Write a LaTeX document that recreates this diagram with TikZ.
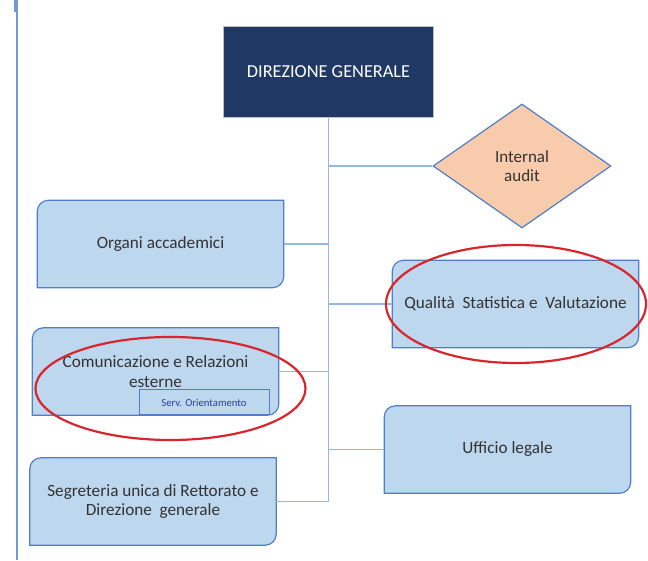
\documentclass[tikz,border=0pt]{standalone}
\usepackage{fontspec}
\setmainfont{Carlito}
\usetikzlibrary{shapes.geometric,backgrounds}

\definecolor{dgblue}{HTML}{1F3864}
\definecolor{boxfill}{HTML}{BDD7EE}
\definecolor{boxedge}{HTML}{4F7FC8}
\definecolor{linkblue}{HTML}{95B8E2}
\definecolor{auditfill}{HTML}{F8CBAD}
\definecolor{ringred}{HTML}{D9262C}
\definecolor{textgray}{HTML}{333333}
\definecolor{servblue}{HTML}{2E3DA8}

\tikzset{
  unit/.style={minimum width=246pt,minimum height=87pt,inner sep=2pt,align=center,
    text=textgray,font=\fontsize{17.2}{19.5}\selectfont},
  shapeline/.style={draw=boxedge,fill=boxfill,line width=1.2pt},
  link/.style={draw=linkblue,line width=1.6pt},
  redring/.style={draw=ringred,line width=2.2pt}
}

\newcommand{\diagrect}[1]{%
  \path[shapeline] (#1.south west) -- ([yshift=-11pt]#1.north west)
    arc[start angle=180,end angle=90,radius=11pt] -- (#1.north east)
    -- ([yshift=11pt]#1.south east)
    arc[start angle=0,end angle=-90,radius=11pt] -- cycle;}

\begin{document}
\begin{tikzpicture}[x=1pt,y=1pt]
\useasboundingbox (0,0) rectangle (648,560);

%margine sinistro
\draw[draw=boxedge!80,line width=2pt] (17,560) -- (17,0);
\draw[draw=boxedge!80,line width=2.5pt] (15,560) -- (15,548);

%Direzione generale
\node[draw=gray!50,fill=dgblue,text=white,minimum width=210pt,minimum height=91pt,
  font=\fontsize{18.3}{21}\selectfont] (dg) at (328.5,488) {DIREZIONE GENERALE};

\node[diamond,draw=boxedge,fill=auditfill,line width=1.2pt,minimum width=178pt,
  minimum height=124pt,inner sep=0pt,align=center,text=textgray,
  font=\fontsize{17}{19.5}\selectfont] (audit) at (522,394) {Internal\\audit};

%uffici
\node[unit] (org) at (160.5,316) {Organi accademici};
\node[unit] (qual) at (515.5,256) {Qualità~~Statistica e~~Valutazione};
\node[unit] (com) at (155.5,188.5) {Comunicazione e Relazioni\\esterne};
\node[unit] (uff) at (507.5,110.5) {Ufficio legale};
\node[unit] (seg) at (153,58.5) {Segreteria unica di Rettorato e\\Direzione~~generale};

\begin{pgfonlayer}{background}
\diagrect{org}
\diagrect{qual}
\diagrect{com}
\diagrect{uff}
\diagrect{seg}
\end{pgfonlayer}

\node[draw=boxedge,fill=boxfill,line width=1pt,minimum width=130pt,minimum height=25pt,
  inner sep=0pt,text=servblue,font=\fontsize{10.7}{12}\selectfont] (serv) at (204,157.5)
  {Serv. Orientamento};

%collegamenti
\draw[link] (dg.south) -- (dg.south |- seg.east);
\draw[link] (audit.west) -- (audit.west -| dg.south);
\draw[link] (org.east) -- (org.east -| dg.south);
\draw[link] (qual.west) -- (qual.west -| dg.south);
\draw[link] (com.east) -- (com.east -| dg.south);
\draw[link] (uff.west) -- (uff.west -| dg.south);
\draw[link] (seg.east) -- (seg.east -| dg.south);

%evidenziati
\draw[redring] (516,256) ellipse [x radius=130,y radius=59];
\draw[redring] (170.5,171.5) ellipse [x radius=135,y radius=51.5];

\end{tikzpicture}
\end{document}
